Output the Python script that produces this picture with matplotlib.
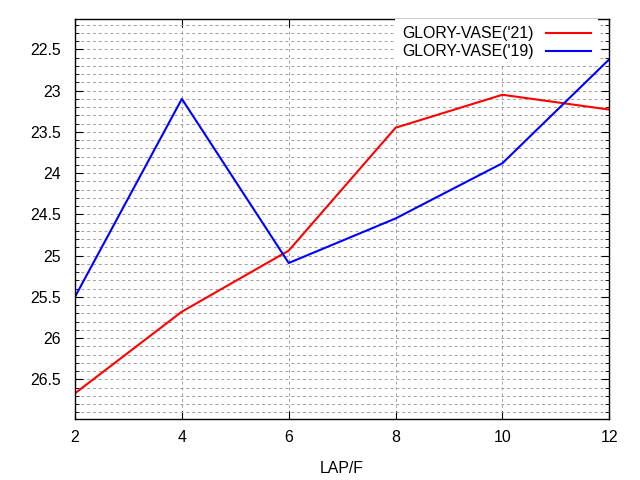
import matplotlib
matplotlib.use("Agg")
import matplotlib.pyplot as plt
from matplotlib.ticker import MultipleLocator

plt.rcParams['font.family'] = ['Liberation Sans', 'DejaVu Sans']

laps = [2, 4, 6, 8, 10, 12]
vase_21 = [26.67, 25.68, 24.94, 23.45, 23.05, 23.23]
vase_19 = [25.50, 23.10, 25.09, 24.55, 23.88, 22.62]
labels = ["GLORY-VASE('21)", "GLORY-VASE('19)"]

fig = plt.figure(figsize=(6.4, 4.8), dpi=100)
ax = fig.add_axes([0.1172, 0.1265, 0.8348, 0.8333])

ax.plot(laps, vase_21, color='#ff0000', lw=1.5, label=labels[0])
ax.plot(laps, vase_19, color='#0000ff', lw=1.5, label=labels[1])

ax.set_xlim(2, 12)
ax.set_ylim(26.985, 22.135)  # inverted
ax.xaxis.set_major_locator(MultipleLocator(2))
ax.yaxis.set_major_locator(MultipleLocator(0.5))
ax.yaxis.set_minor_locator(MultipleLocator(0.1))
ax.yaxis.set_major_formatter(plt.FuncFormatter(lambda v, p: f"{v:g}"))

grid_kw = dict(color='#a0a0a0', linestyle=(0, (3, 3)), linewidth=0.7)
ax.grid(True, which='major', axis='both', **grid_kw)
ax.grid(True, which='minor', axis='y', **grid_kw)
ax.set_axisbelow(True)

ax.tick_params(which='both', direction='in', top=True, right=True, labelsize=11.4, colors='black')
ax.tick_params(which='major', length=6)
ax.tick_params(which='minor', length=3)
ax.tick_params(axis='y', which='major', pad=10)
ax.tick_params(axis='x', which='major', pad=8)
for s in ax.spines.values():
    s.set_linewidth(1.0)

ax.set_xlabel('LAP/F', fontsize=11.4, labelpad=11)

leg = ax.legend(loc='upper right', bbox_to_anchor=(598 / 640, 1 - 19 / 480),
                bbox_transform=fig.transFigure, frameon=True, markerfirst=False,
                fontsize=11.4, handlelength=2.85, handletextpad=0.76,
                labelspacing=0.2, borderaxespad=0, borderpad=0.45, fancybox=False)
leg.get_frame().set_facecolor('white')
leg.get_frame().set_edgecolor('none')
leg.get_frame().set_alpha(1)

fig.savefig('out.png', dpi=100)
